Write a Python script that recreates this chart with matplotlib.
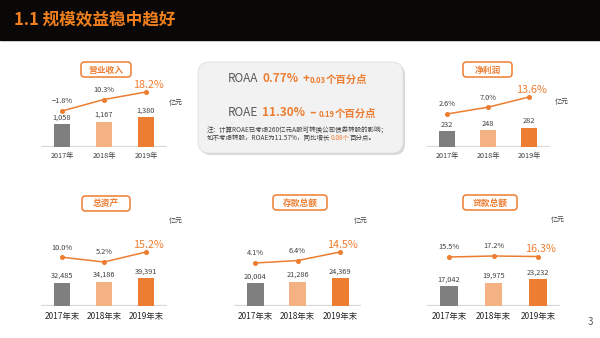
import matplotlib
matplotlib.use('Agg')
import matplotlib.pyplot as plt
from matplotlib.patches import FancyBboxPatch, Rectangle

plt.rcParams['font.family'] = ['Noto Sans CJK SC', 'DejaVu Sans']

ORANGE = '#ED7D31'
DARK = '#404040'
BAR_COLORS = ['#7F7F7F', '#F4B183', '#ED7D31']

# ─── DATA ────────────────────────────────────────────────────────────────────
years_top = ['2017年', '2018年', '2019年']
years_end = ['2017年末', '2018年末', '2019年末']

revenue = [1058, 1167, 1380]
revenue_growth = [-1.8, 10.3, 18.2]
profit = [232, 248, 282]
profit_growth = [2.6, 7.0, 13.6]
assets = [32485, 34186, 39391]
assets_growth = [10.0, 5.2, 15.2]
deposits = [20004, 21286, 24369]
deposits_growth = [4.1, 6.4, 14.5]
loans = [17042, 19975, 23232]
loans_growth = [15.5, 17.2, 16.3]

W, H = 600, 338
fig = plt.figure(figsize=(6, 3.38), dpi=100)
fig.patch.set_facecolor('white')

# background axes in pixel coords (y down)
bg = fig.add_axes([0, 0, 1, 1])
bg.set_xlim(0, W); bg.set_ylim(H, 0); bg.axis('off')

bg.add_patch(Rectangle((0, 0), W, 40, color='#0a0806', zorder=1))
bg.text(14, 20.5, '1.1 规模效益稳中趋好', color='#F07F1E', fontsize=12,
        fontweight='bold', va='center', ha='left', zorder=2)
bg.text(590, 322, '3', color='#595959', fontsize=7, ha='center', va='center')


def fmt_num(v):
    return f'{v:,}'


def fmt_pct(v):
    s = f'{abs(v):.1f}%'
    return ('−' + s) if v < 0 else s


def panel(title, years, values, growth, x0, x1, base, bar_px, lmap,
          box, unit_xy, big=False):
    top_px = 95
    ax = fig.add_axes([x0 / W, 1 - base / H, (x1 - x0) / W, top_px / H])
    ax.patch.set_visible(False)
    xs = list(range(len(values)))
    ax.bar(xs, values, width=0.4, color=BAR_COLORS, zorder=2)
    ax.set_xlim(-0.5, len(values) - 0.5)
    ax.set_ylim(0, max(values) * top_px / bar_px)
    for s in ax.spines.values():
        s.set_visible(False)
    ax.axhline(0, color='#D9D9D9', lw=1.6, zorder=1)
    ax.set_yticks([])
    ax.set_xticks(xs)
    ax.set_xticklabels(years, fontsize=6 if big else 5.2, color='#262626' if big else DARK,
                       fontweight='medium' if big else 'normal')
    ax.tick_params(axis='x', length=0, pad=4.5 if big else 3.5)
    vfs = 5.3
    for x, v in zip(xs, values):
        ax.annotate(fmt_num(v), (x, v), xytext=(0, 2), textcoords='offset points',
                    ha='center', va='bottom', fontsize=vfs, color=DARK)

    # growth line on its own scale
    lx = ax.twinx()
    lx.set_position(ax.get_position())
    lx.patch.set_visible(False)
    for s in lx.spines.values():
        s.set_visible(False)
    lx.set_yticks([])
    va, pa, vb, pb = lmap
    slope = (pb - pa) / (vb - va)
    lo = va - pa / slope
    lx.set_ylim(lo, lo + top_px / slope)
    lx.plot(xs, growth, color=ORANGE, lw=1.1, marker='o', ms=2.6, zorder=3)
    for i, (x, g) in enumerate(zip(xs, growth)):
        if i < len(xs) - 1:
            lx.annotate(fmt_pct(g), (x, g), xytext=(0, 4), textcoords='offset points',
                        ha='center', va='bottom', fontsize=vfs, color=DARK)
        else:
            lx.annotate(fmt_pct(g), (x, g), xytext=(2, 1.5), textcoords='offset points',
                        ha='center', va='bottom', fontsize=7.8, color=ORANGE,
                        fontweight='medium')

    bx0, bx1, by0, by1 = box
    bg.add_patch(FancyBboxPatch((bx0, by0), bx1 - bx0, by1 - by0,
                                boxstyle='round,pad=0,rounding_size=3.5',
                                fc='white', ec=ORANGE, lw=1.1, zorder=3))
    bg.text((bx0 + bx1) / 2, (by0 + by1) / 2 + 0.5, title, color=ORANGE,
            fontsize=6.3, fontweight='bold', ha='center', va='center', zorder=4)
    bg.text(unit_xy[0], unit_xy[1], '亿元', fontsize=5, color=DARK,
            ha='center', va='center')


panel('营业收入', years_top, revenue, revenue_growth, 41, 167, 147, 30,
      (-1.8, 36, 18.2, 55), (81, 131, 62, 77), (176, 103))
panel('净利润', years_top, profit, profit_growth, 426.5, 549.5, 147, 19,
      (2.6, 33, 13.6, 50), (463, 512, 62, 77), (562, 102))
panel('总资产', years_end, assets, assets_growth, 41, 167, 306, 28,
      (5.2, 44, 15.2, 54), (82, 130, 196, 211), (176, 221), big=True)
panel('存款总额', years_end, deposits, deposits_growth, 233.75, 361.25, 306, 28,
      (4.1, 43, 14.5, 54), (273, 327, 195, 210), (361, 221), big=True)
panel('贷款总额', years_end, loans, loans_growth, 426.75, 560.25, 306, 27,
      (15.5, 49, 17.2, 50), (463, 517, 195, 210), (558, 220), big=True)

# ─── ROAA / ROAE box ─────────────────────────────────────────────────────────
bg.add_patch(FancyBboxPatch((200, 64), 205, 91, boxstyle='round,pad=0,rounding_size=11',
                            fc='#BFBFBF', ec='none', alpha=0.6, zorder=2))
bg.add_patch(FancyBboxPatch((198, 62), 205, 91, boxstyle='round,pad=0,rounding_size=11',
                            fc='#F2F2F2', ec='#E0E0E0', lw=0.6, zorder=3))


def chain(parts, x, y):
    """Place text pieces one after another on a line."""
    prev = None
    for txt, size, color, weight, gap in parts:
        if prev is None:
            prev = bg.text(x, y, txt, fontsize=size, color=color, fontweight=weight,
                           ha='left', va='baseline', zorder=5)
        else:
            prev = bg.annotate(txt, xy=(1, 0), xycoords=prev, xytext=(gap, 0),
                               textcoords='offset points', fontsize=size, color=color,
                               fontweight=weight, ha='left', va='bottom', zorder=5)


chain([('ROAA', 8.5, '#595959', 'normal', 0),
       ('0.77%', 8.5, ORANGE, 'bold', 3),
       ('+', 8.5, ORANGE, 'bold', 3),
       ('0.03', 5.5, ORANGE, 'bold', 0),
       ('个百分点', 7.5, ORANGE, 'bold', 0)], 228, 82)
chain([('ROAE', 8.5, '#595959', 'normal', 0),
       ('11.30%', 8.5, ORANGE, 'bold', 3),
       ('–', 8.5, ORANGE, 'bold', 3),
       ('0.19', 5.5, ORANGE, 'bold', 2),
       ('个百分点', 7.5, ORANGE, 'bold', 0)], 228, 116)
chain([('注：计算ROAE已考虑260亿元A股可转换公司债券转股的影响；', 4.7, DARK, 'normal', 0)],
      207, 132)
chain([('如不考虑转股，ROAE为11.57%，同比增长', 4.7, DARK, 'normal', 0),
       ('0.08个', 4.7, ORANGE, 'normal', 0),
       ('百分点。', 4.7, DARK, 'normal', 0)], 207, 140)

fig.savefig('out.png', dpi=100)
